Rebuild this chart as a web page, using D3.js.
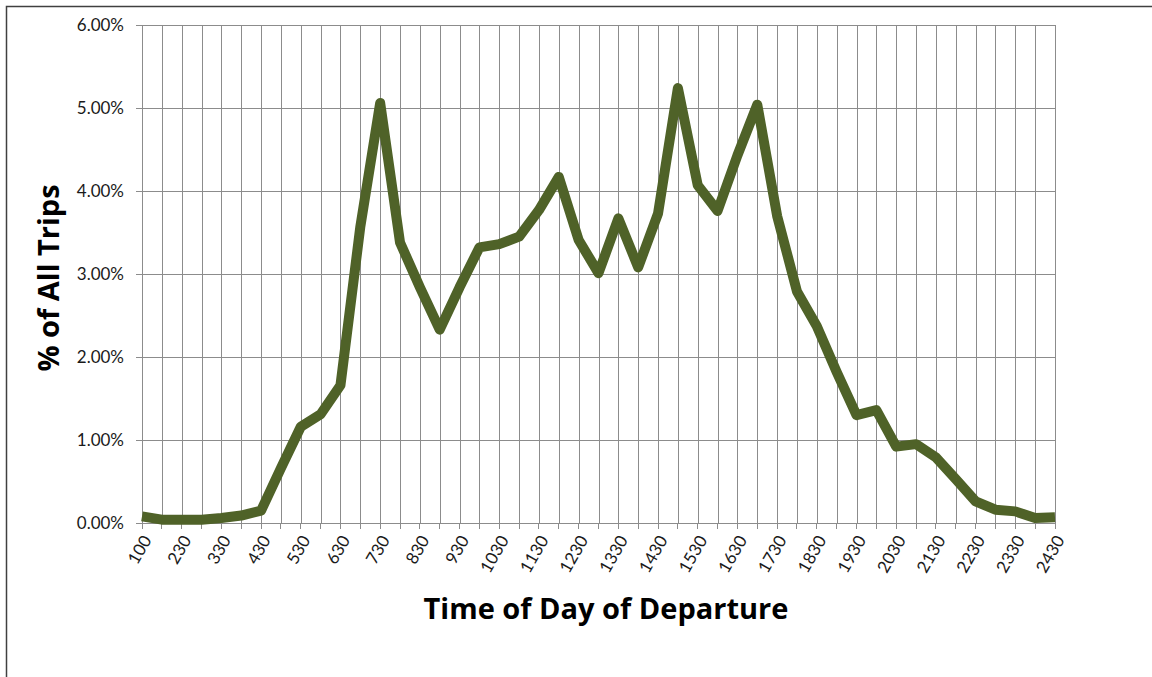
<!DOCTYPE html>
<meta charset="utf-8">
<style>
body { margin: 0; background: #fff; }
text { font-family: Lato, sans-serif; }
.grid line { stroke: #8c8c8c; stroke-width: 1px; shape-rendering: crispEdges; }
.trend { fill: none; stroke: #4f6228; stroke-width: 10px; stroke-linejoin: round; }
.ttl { font-family: "Open Sans", sans-serif; font-weight: bold; fill: #000; }
</style>
<body>
<script src="https://d3js.org/d3.v7.min.js"></script>
<script>

// departure times (half-hour bins) and share of trips in %
var times = ["100","200","230","300","330","400","430","500","530","600","630","700",
  "730","800","830","900","930","1000","1030","1100","1130","1200","1230","1300",
  "1330","1400","1430","1500","1530","1600","1630","1700","1730","1800","1830","1900",
  "1930","2000","2030","2100","2130","2200","2230","2300","2330","2400","2430"];

var share = [0.08,0.04,0.04,0.04,0.06,0.09,0.15,0.66,1.16,1.31,1.66,3.57,
  5.06,3.38,2.84,2.33,2.84,3.32,3.36,3.45,3.77,4.17,3.41,3.01,
  3.67,3.08,3.73,5.24,4.07,3.76,4.43,5.04,3.70,2.79,2.37,1.82,
  1.30,1.36,0.92,0.95,0.79,0.53,0.26,0.16,0.14,0.06,0.07];

var yTicks = [0, 1, 2, 3, 4, 5, 6];

var width = 1152,
    height = 677,
    plotL = 142, plotR = 1055, plotT = 25, plotB = 523;

var svg = d3.select("body").append("svg")
    .attr("width", width)
    .attr("height", height);

// chart frame, runs off the right and bottom edge
svg.append("rect")
    .attr("x", 6.5).attr("y", 6.5)
    .attr("width", 1200).attr("height", 700)
    .attr("fill", "none")
    .attr("stroke", "#404040")
    .attr("stroke-width", 1.5);

var x = d3.scalePoint()
    .domain(times)
    .range([plotL, plotR]);

var y = d3.scaleLinear()
    .domain([0, 6])
    .range([plotB, plotT]);

// vertical grid + x ticks
var xAxis = svg.append("g")
    .attr("class", "grid")
    .attr("transform", "translate(0," + plotB + ")")
    .call(d3.axisBottom(x)
        .tickSizeInner(-(plotB - plotT))
        .tickSizeOuter(0)
        .tickFormat(""));
xAxis.select(".domain").remove();

svg.append("g")
    .attr("class", "grid")
    .selectAll("line")
    .data(times)
  .enter().append("line")
    .attr("x1", function(d) { return x(d); })
    .attr("x2", function(d) { return x(d); })
    .attr("y1", plotB)
    .attr("y2", plotB + 6);

// x labels, every other category
svg.append("g")
    .selectAll("text")
    .data(times.filter(function(d, i) { return i % 2 === 0; }))
  .enter().append("text")
    .attr("transform", function(d) { return "translate(" + (x(d) + 5) + "," + (plotB + 14) + ") rotate(-60)"; })
    .attr("text-anchor", "end")
    .attr("dy", "0.35em")
    .attr("font-size", 17)
    .attr("fill", "#1a1a1a")
    .text(function(d) { return d; });

// horizontal grid + y ticks
var yAxis = svg.append("g")
    .attr("class", "grid")
    .attr("transform", "translate(" + plotL + ",0)")
    .call(d3.axisLeft(y)
        .tickValues(yTicks)
        .tickSizeInner(-(plotR - plotL))
        .tickSizeOuter(0)
        .tickFormat(""));
yAxis.select(".domain").remove();

svg.append("g")
    .attr("class", "grid")
    .selectAll("line")
    .data(yTicks)
  .enter().append("line")
    .attr("x1", plotL - 6)
    .attr("x2", plotL)
    .attr("y1", function(d) { return y(d); })
    .attr("y2", function(d) { return y(d); });

svg.append("g")
    .selectAll("text")
    .data(yTicks)
  .enter().append("text")
    .attr("x", plotL - 18)
    .attr("y", function(d) { return y(d); })
    .attr("dy", "0.35em")
    .attr("text-anchor", "end")
    .attr("font-size", 17)
    .attr("fill", "#1a1a1a")
    .text(function(d) { return d.toFixed(2) + "%"; });

var line = d3.line()
    .x(function(d, i) { return x(times[i]); })
    .y(function(d) { return y(d); });

svg.append("path")
    .datum(share)
    .attr("class", "trend")
    .attr("d", line);

svg.append("text")
    .attr("class", "ttl")
    .attr("x", 606)
    .attr("y", 619)
    .attr("text-anchor", "middle")
    .attr("font-size", 29)
    .text("Time of Day of Departure");

svg.append("text")
    .attr("class", "ttl")
    .attr("transform", "translate(59,278) rotate(-90)")
    .attr("text-anchor", "middle")
    .attr("font-size", 29)
    .text("% of All Trips");

</script>
